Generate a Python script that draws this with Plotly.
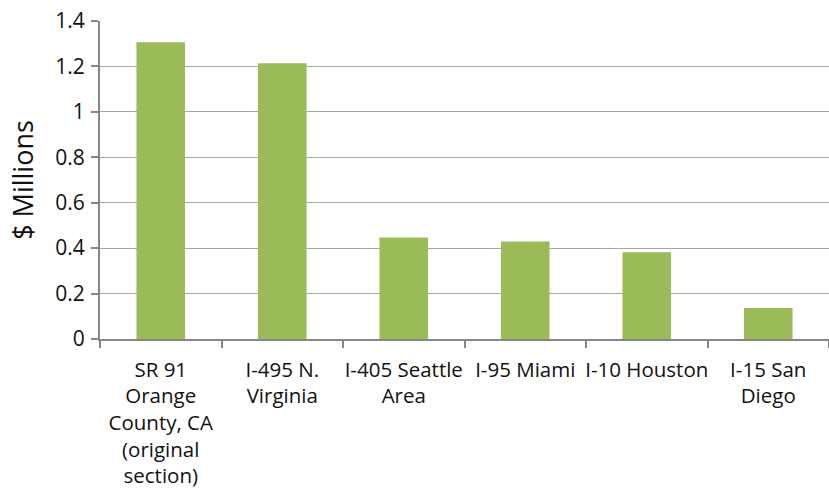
import plotly.graph_objects as go

categories = [
    "SR 91<br>Orange<br>County, CA<br>(original<br>section)",
    "I-495 N.<br>Virginia",
    "I-405 Seattle<br>Area",
    "I-95 Miami",
    "I-10 Houston",
    "I-15 San<br>Diego",
]
values = [1.306, 1.214, 0.447, 0.429, 0.382, 0.136]
y_ticks = [0, 0.2, 0.4, 0.6, 0.8, 1.0, 1.2, 1.4]
y_tick_labels = ["0", "0.2", "0.4", "0.6", "0.8", "1", "1.2", "1.4"]

FONT = "Open Sans"
AX = "#868686"
TXT = "#111111"

fig = go.Figure(
    go.Bar(
        x=categories,
        y=values,
        marker=dict(color="#9BBB59", line=dict(width=0)),
        width=0.4,
    )
)

fig.update_layout(
    width=829,
    height=491,
    margin=dict(l=100, r=0, t=21, b=152),
    paper_bgcolor="white",
    plot_bgcolor="white",
    showlegend=False,
    font=dict(family=FONT, color=TXT, size=20),
)

fig.update_xaxes(
    showline=True,
    linecolor=AX,
    linewidth=2,
    ticks="outside",
    tickson="boundaries",
    ticklen=7,
    tickcolor=AX,
    tickwidth=2,
    showgrid=False,
    tickfont=dict(family=FONT, size=20.5, color=TXT),
    tickangle=0,
    ticklabelstandoff=11,
)

fig.update_yaxes(
    range=[0, 1.4],
    tickvals=y_ticks,
    ticktext=y_tick_labels,
    showline=True,
    linecolor=AX,
    linewidth=2,
    ticks="outside",
    ticklen=7,
    tickcolor=AX,
    tickwidth=2,
    showgrid=True,
    gridcolor="#a6a6a6",
    gridwidth=1,
    zeroline=False,
    tickfont=dict(family=FONT, size=21, color=TXT),
    ticklabelstandoff=2,
    title=dict(text="$ Millions", font=dict(family=FONT, size=27, color=TXT), standoff=14),
)

fig.write_html("out.html")
